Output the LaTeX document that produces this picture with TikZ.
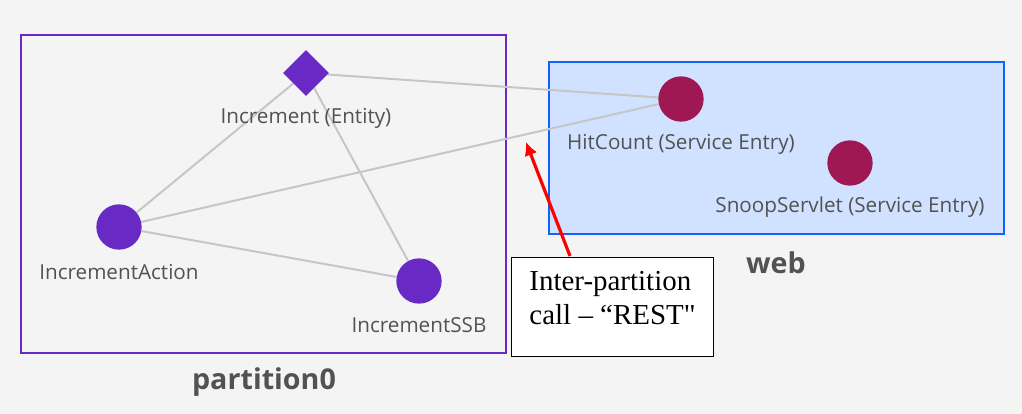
\documentclass[tikz,border=0pt]{standalone}
\usepackage{fontspec}
\setmainfont{Open Sans}
\newfontfamily\calloutfont{Liberation Serif}
\usetikzlibrary{arrows.meta, positioning, shapes.geometric, backgrounds}
\definecolor{cpurple}{HTML}{6929C4}
\definecolor{cmagenta}{HTML}{9F1853}
\definecolor{cblue}{HTML}{0F62FE}
\definecolor{cbluefill}{HTML}{D0E2FF}
\definecolor{ctext}{HTML}{525252}
\definecolor{cedge}{HTML}{C6C6C6}
\definecolor{cbg}{HTML}{F4F4F4}
\pgfdeclarelayer{frames}
\pgfsetlayers{frames,background,main}
\tikzset{
  every picture/.style={font=\fontsize{15.5}{18}\selectfont},
  comp/.style={circle, fill=cpurple, minimum size=34pt, inner sep=0pt},
  svc/.style={circle, fill=cmagenta, minimum size=34pt, inner sep=0pt},
  entity/.style={diamond, fill=cpurple, minimum size=34.5pt, inner sep=0pt},
  lbl/.style={text=ctext, inner sep=1pt},
  group/.style={draw=#1, line width=1.9pt},
  grouptitle/.style={font=\fontsize{21.5}{24}\selectfont\bfseries, text=ctext},
  link/.style={draw=cedge, line width=1.5pt},
  callarrow/.style={-{Latex[length=10pt, width=10pt]}, draw=red, line width=2.4pt},
  callout/.style={draw=black, fill=white, line width=0.8pt, align=left, text depth=14pt, font=\calloutfont\fontsize{21.7}{25.5}\selectfont},
}

\begin{document}
\begin{tikzpicture}[x=0.75pt, y=-0.75pt]
  \useasboundingbox (0,0) rectangle (1022,414);
  % groups
  \begin{pgfonlayer}{frames}
    \fill[cbg] (0,0) rectangle (1022,414);
    \draw[group=cpurple] (21,35) rectangle (506,353);
    \draw[group=cblue, fill=cbluefill] (549,62) rectangle (1004,234);
  \end{pgfonlayer}
  \node[grouptitle] (parttitle) at (264,382) {partition0};
  \node[grouptitle] (webtitle) at (776,263) {web};
  % partition0
  \node[entity] (incr) at (306,73) {};
  \node[lbl] (incrlbl) at (306,118) {Increment (Entity)};
  \node[comp] (act) at (119,227) {};
  \node[lbl] (actlbl) at (119,272) {IncrementAction};
  \node[comp] (ssb) at (419,281) {};
  \node[lbl] (ssblbl) at (419,325) {IncrementSSB};
  % web
  \node[svc] (hit) at (681,99) {};
  \node[lbl] (hitlbl) at (681,144) {HitCount (Service Entry)};
  \node[svc] (snoop) at (850,163) {};
  \node[lbl] (snooplbl) at (850,207) {SnoopServlet (Service Entry)};
  % calls
  \begin{scope}[on background layer]
    \draw[link] (incr) -- (hit);
    \draw[link] (incr) -- (act);
    \draw[link] (incr) -- (ssb);
    \draw[link] (act) -- (hit);
    \draw[link] (act) -- (ssb);
  \end{scope}
  % callout
  \node[callout, anchor=north west, minimum width=151.5pt, minimum height=74.25pt] (call) at (511,257) {Inter-partition\\call – “REST"};
  \coordinate (resttail) at (570,256);
  \coordinate (resttip) at (526,142);
  \draw[callarrow] (resttail) -- (resttip);
\end{tikzpicture}
\end{document}
